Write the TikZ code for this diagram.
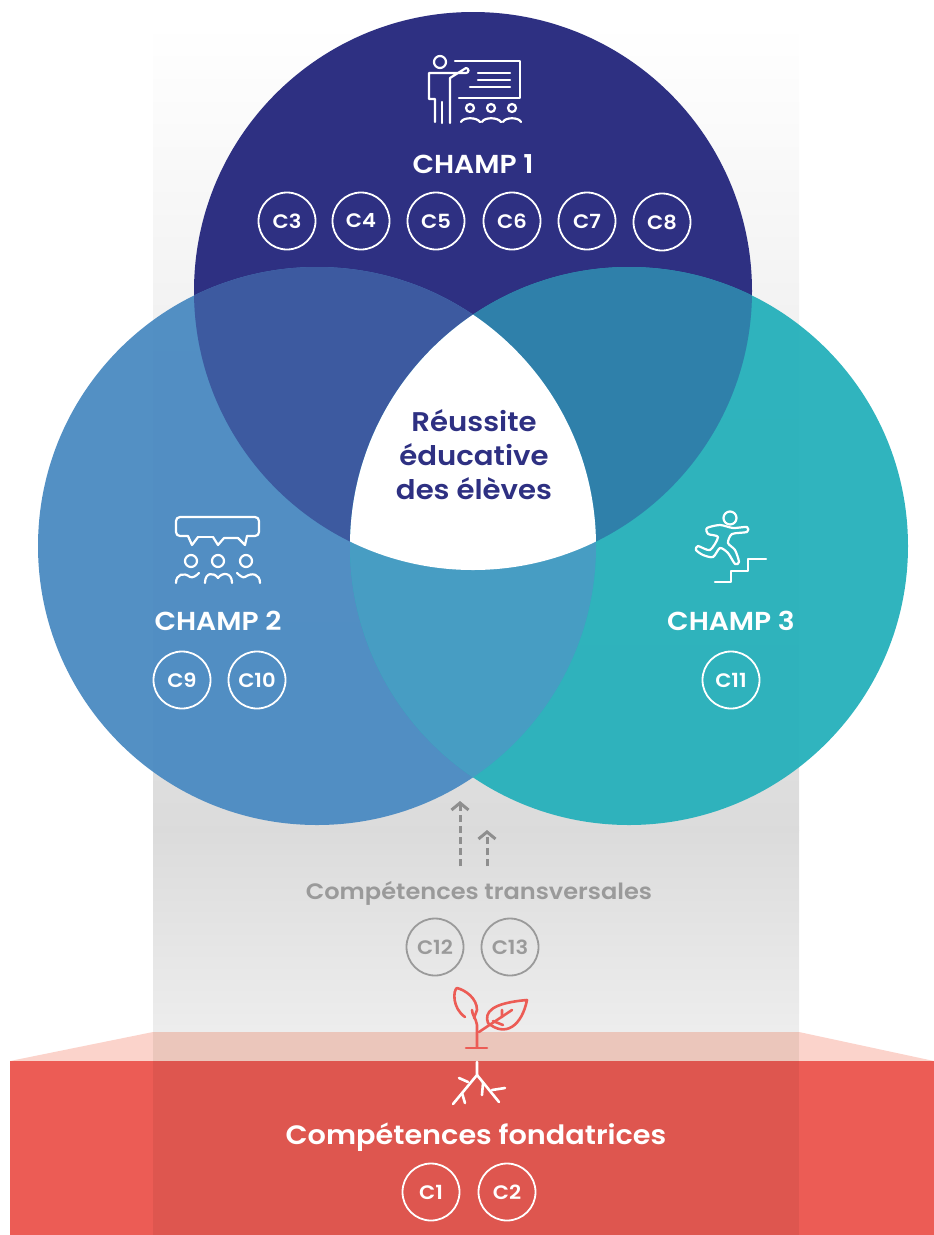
\documentclass[tikz,border=0pt]{standalone}
\usepackage{fontspec}
\setmainfont{Poppins}[BoldFont={Poppins SemiBold}, FakeStretch=1.08]
\usepackage{tikz}
\usetikzlibrary{arrows.meta}

\definecolor{navy}{HTML}{2E3082}
\definecolor{skyblue}{HTML}{4C8BC2}
\definecolor{teal}{HTML}{28B1BB}
\definecolor{navyblue}{HTML}{3D5AA0}
\definecolor{navyteal}{HTML}{2F80AA}
\definecolor{blueteal}{HTML}{479DC3}
\definecolor{coral}{HTML}{EC5C55}
\definecolor{coraldark}{HTML}{DE564F}
\definecolor{blush}{HTML}{FBD3CB}
\definecolor{blushdark}{HTML}{EBC6BB}
\definecolor{slate}{HTML}{9A9A9A}

\tikzset{
    comp/.style={circle, draw=#1, text=#1, line width=1.8pt, minimum size=57pt, inner sep=0pt, font=\bfseries\fontsize{19.5}{22}\selectfont},
    comp/.default=white,
    champ/.style={text=white, font=\bfseries\fontsize{26}{30}\selectfont},
    icon/.style={draw=white, line width=2.2pt, line cap=round, line join=round},
    sprout/.style={draw=coral, line width=2.6pt, line cap=round, line join=round},
    dasharrow/.style={-{Straight Barb[length=7pt, width=17pt]}, dashed, dash pattern=on 7pt off 4pt, slate!92!black, line width=3pt}
}

\begin{document}
\begin{tikzpicture}[x=1pt, y=-1pt]
            \useasboundingbox (0, 0) rectangle (934, 1235);

            \shade[top color=white, bottom color=black!14] (153, 22) rectangle (799, 830);
            \shade[top color=black!14, bottom color=black!7] (153, 830) rectangle (799, 1032);

            \fill[blush] (10, 1061) -- (153, 1032) -- (799, 1032) -- (934, 1061) -- cycle;
            \fill[blushdark] (153, 1032) rectangle (799, 1061);
            \fill[coral] (10, 1061) rectangle (934, 1235);
            \fill[coraldark] (153, 1061) rectangle (799, 1235);

            \fill[navy] (473, 291) circle (279);
            \fill[skyblue, opacity=.96] (317, 546) circle (279);
            \fill[teal, opacity=.96] (629, 546) circle (279);

            \begin{scope}
                \clip (473, 291) circle (279);
                \fill[navyblue] (317, 546) circle (279);
                \fill[navyteal] (629, 546) circle (279);
            \end{scope}
            \begin{scope}
                \clip (317, 546) circle (279);
                \fill[blueteal] (629, 546) circle (279);
                \clip (629, 546) circle (279);
                \fill[white] (473, 291) circle (279);
            \end{scope}

            \node[champ] (champ1) at (473, 164.5) {CHAMP 1};
            \node[comp] (c3) at (287, 221) {C3};
            \node[comp] (c4) at (361, 221) {C4};
            \node[comp] (c5) at (436, 221) {C5};
            \node[comp] (c6) at (512, 221) {C6};
            \node[comp] (c7) at (587, 221) {C7};
            \node[comp] (c8) at (662, 222) {C8};

            \node[champ] (champ2) at (218, 621) {CHAMP 2};
            \node[comp] (c9) at (182, 680) {C9};
            \node[comp] (c10) at (257, 680) {C10};

            \node[champ] (champ3) at (731, 621) {CHAMP 3};
            \node[comp] (c11) at (731, 680) {C11};

            \node[text=navy, align=center, font=\bfseries\fontsize{27}{34}\selectfont] (centre) at (474, 455) {Réussite\\éducative\\des élèves};

            \node[text=slate, font=\bfseries\fontsize{22.3}{26}\selectfont] (transv) at (479, 893) {Compétences transversales};
            \node[comp=slate] (c12) at (435, 947) {C12};
            \node[comp=slate] (c13) at (510, 947) {C13};

            \coordinate (a1) at (460, 866);
            \coordinate (a2) at (487, 866);
            \coordinate (b1) at (460, 801);
            \coordinate (b2) at (487, 830);
            \draw[dasharrow] (a1) to (b1);
            \draw[dasharrow] (a2) to (b2);

            \node[text=white, font=\bfseries\fontsize{26.6}{30}\selectfont] (fond) at (476, 1137) {Compétences fondatrices};
            \node[comp] (c1) at (431, 1192) {C1};
            \node[comp] (c2) at (507, 1192) {C2};

            \draw[icon] (440, 62) circle (6);
            \draw[icon] (455, 61) -- (520, 61) -- (520, 98) -- (459, 98);
            \draw[icon] (478, 73) -- (510, 73) (478, 80) -- (510, 80) (470, 87) -- (510, 87);
            \draw[icon] (435, 122) -- (435, 99) -- (429, 99) -- (429, 73) -- (466, 73) arc (90:-90:2.5) -- (450, 78) -- (450, 123);
            \draw[icon] (442, 102) -- (442, 123);
            \draw[icon] (470, 108) circle (4) (491, 108) circle (4) (512, 108) circle (4);
            \draw[icon] (461, 122) .. controls (463, 117) and (477, 117) .. (480, 122);
            \draw[icon] (482, 122) .. controls (484, 117) and (498, 117) .. (501, 122);
            \draw[icon] (503, 122) .. controls (505, 117) and (519, 117) .. (521, 122);

            \draw[icon, rounded corners=4pt] (188, 536) -- (176, 536) -- (176, 517) -- (259, 517) -- (259, 536) -- (247, 536);
            \draw[icon] (188, 536) -- (192, 545) -- (198, 537) (213, 537) -- (218, 545) -- (224, 538) -- (238, 538) -- (245, 545) -- (247, 536);
            \draw[icon] (198, 537) -- (213, 537);
            \draw[icon] (191, 561) circle (6) (218, 561) circle (6) (246, 561) circle (6);
            \draw[icon] (176, 583) .. controls (176, 574) and (184, 572) .. (190, 577) .. controls (193, 578) and (196, 576) .. (199, 573);
            \draw[icon] (205, 583) .. controls (205, 572) and (214, 572) .. (218, 578) .. controls (222, 572) and (232, 572) .. (232, 583);
            \draw[icon] (237, 573) .. controls (240, 576) and (243, 578) .. (245, 577) .. controls (252, 572) and (260, 574) .. (260, 583);

            \draw[icon] (730, 518) circle (6.5);
            \draw[icon] plot[smooth cycle, tension=.45] coordinates {(707, 528) (720, 525) (733, 528) (747, 527) (747, 532) (732, 534) (728, 543) (735, 550) (739, 562) (735, 564) (728, 553) (720, 548) (713, 557) (703, 555) (696, 550) (698, 546) (710, 550) (718, 537) (708, 534)};
            \draw[icon] (715, 582) -- (731, 582) -- (731, 571) -- (748, 571) -- (748, 559) -- (766, 559);

            \draw[sprout] (477, 1047) -- (477, 1025) .. controls (476, 1018) and (472, 1015) .. (472, 1010);
            \draw[sprout] (465, 1017) .. controls (452, 1008) and (453, 990) .. (457, 988) .. controls (465, 990) and (477, 998) .. (477, 1010) -- (474, 1018);
            \draw[sprout] (479, 1032) -- (512, 1010);
            \draw[sprout] (488, 1023) .. controls (484, 1012) and (492, 1003) .. (527, 1000) .. controls (522, 1025) and (506, 1038) .. (488, 1023);
            \draw[sprout] (502, 1010) -- (502, 1017) (493, 1021) -- (503, 1025);
            \draw[sprout] (466, 1048) -- (487, 1048);

            \draw[icon, line width=2.6pt] (477, 1062) -- (477, 1075) -- (453, 1104);
            \draw[icon, line width=2.6pt] (477, 1075) -- (499, 1102);
            \draw[icon, line width=2.6pt] (468, 1082) -- (459, 1078) (462, 1093) -- (465, 1103);
            \draw[icon, line width=2.6pt] (483, 1083) -- (482, 1095) (492, 1090) -- (505, 1088);
        \end{tikzpicture}
\end{document}
